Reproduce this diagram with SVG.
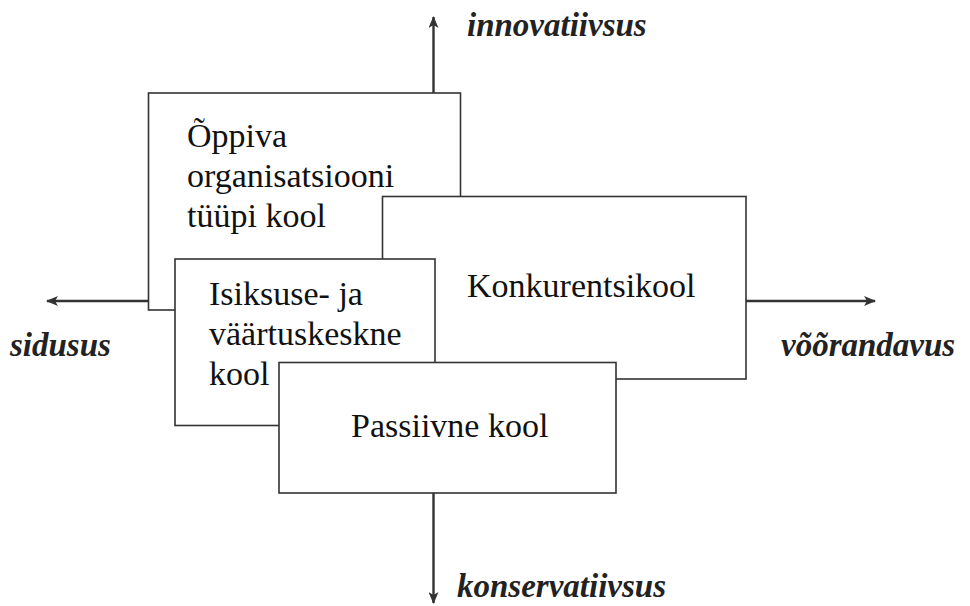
<svg xmlns="http://www.w3.org/2000/svg" width="970" height="606" viewBox="0 0 970 606">
<style>
.box{fill:#fff;stroke:#333;stroke-width:1.6}
.ax{stroke:#333;stroke-width:2.4;fill:none}
.t{font-family:'Liberation Serif','DejaVu Serif',serif;font-size:34px;fill:#111}
.l{font-family:'Liberation Serif','DejaVu Serif',serif;font-size:33px;font-weight:bold;font-style:italic;fill:#222}
</style>
<defs>
<marker id="ah" viewBox="0 0 12 10" refX="11" refY="5" markerWidth="12" markerHeight="10" markerUnits="userSpaceOnUse" orient="auto">
<path d="M0,0 L12,5 L0,10 L3,5 z" fill="#333"/>
</marker>
</defs>
<g id="connectors">
<line class="ax" x1="148" y1="301" x2="47" y2="301" marker-end="url(#ah)"/>
<line class="ax" x1="746" y1="301" x2="875" y2="301" marker-end="url(#ah)"/>
<line class="ax" x1="433.5" y1="93" x2="433.5" y2="17" marker-end="url(#ah)"/>
<line class="ax" x1="433.5" y1="493" x2="433.5" y2="603" marker-end="url(#ah)"/>
</g>
<g id="oppiva">
<rect class="box" x="148.5" y="93" width="312" height="217"/>
<text class="t" x="187" y="147">Õppiva</text>
<text class="t" x="187" y="187">organisatsiooni</text>
<text class="t" x="187" y="227">tüüpi kool</text>
</g>
<g id="konkurents">
<rect class="box" x="382.5" y="196.5" width="363.5" height="182.5"/>
<text class="t" x="467" y="297">Konkurentsikool</text>
</g>
<g id="isiksuse">
<rect class="box" x="175" y="259" width="260" height="166.5"/>
<text class="t" x="209" y="305">Isiksuse- ja</text>
<text class="t" x="209" y="345">väärtuskeskne</text>
<text class="t" x="209" y="385">kool</text>
</g>
<g id="passiivne">
<rect class="box" x="279" y="362.5" width="337" height="130.5"/>
<text class="t" x="351" y="437">Passiivne kool</text>
</g>
<g id="labels">
<text class="l" x="467" y="36">innovatiivsus</text>
<text class="l" x="457" y="597">konservatiivsus</text>
<text class="l" x="10" y="356">sidusus</text>
<text class="l" x="781" y="356">võõrandavus</text>
</g>
</svg>
